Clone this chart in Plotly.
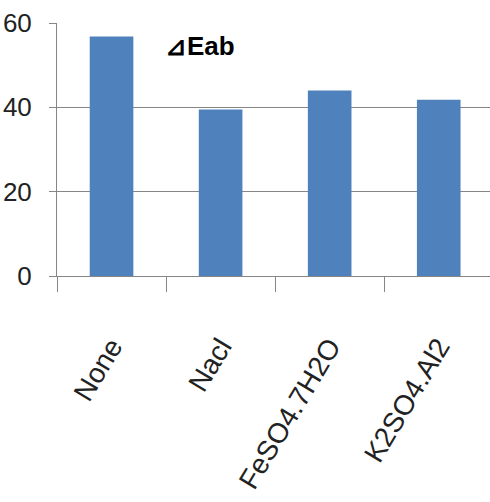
import plotly.graph_objects as go

categories = ["None", "Nacl", "FeSO4.7H2O", "K2SO4.Al2"]
values = [56.8, 39.5, 44.0, 41.8]
y_ticks = [0, 20, 40, 60]

FONT = "Liberation Sans, Arial, sans-serif"

fig = go.Figure()
fig.add_trace(go.Bar(
    x=categories, y=values,
    marker=dict(color="#4F81BD", line=dict(width=0)),
    width=0.4,
))

fig.update_layout(
    width=490, height=502,
    margin=dict(l=57, r=0, t=23, b=226),
    paper_bgcolor="white", plot_bgcolor="white",
    showlegend=False,
    font=dict(family=FONT, color="#222222"),
    xaxis=dict(
        range=[-0.5, 3.47],
        showline=True, linecolor="#868686", linewidth=1,
        ticks="outside", ticklen=15, tickcolor="#868686",
        tickson="boundaries",
        tickangle=-59,
        tickfont=dict(size=28, family=FONT, color="#222222"),
        ticklabelstandoff=42,
        showgrid=False,
    ),
    yaxis=dict(
        range=[0, 60],
        tickvals=y_ticks,
        showline=True, linecolor="#868686", linewidth=1,
        ticks="outside", ticklen=7, tickcolor="#868686",
        gridcolor="#868686", gridwidth=1,
        zeroline=False,
        tickfont=dict(size=26, family=FONT, color="#222222"),
        ticklabelstandoff=12,
    ),
    annotations=[dict(
        text="<b>⊿Eab</b>", x=0.47, y=54.5, xref="x", yref="y",
        xanchor="left", yanchor="middle", showarrow=False,
        font=dict(size=26, family=FONT, color="black"),
    )],
)

fig.write_html("out.html")
